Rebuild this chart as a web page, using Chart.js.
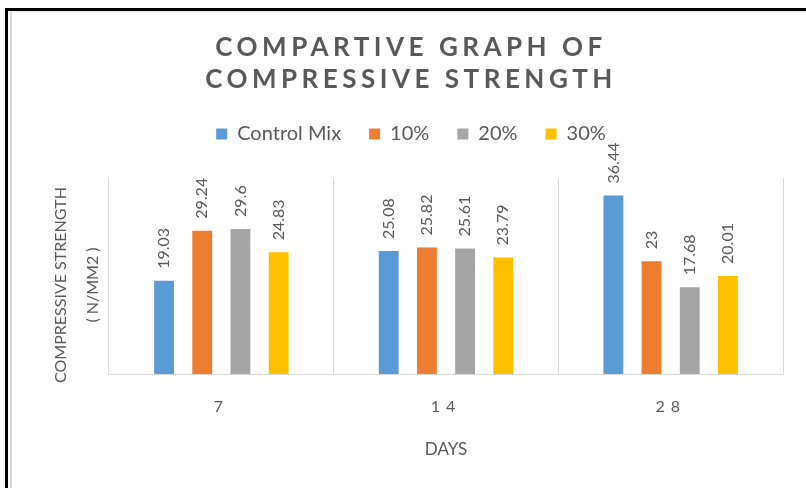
<!DOCTYPE html>
<html>
<head>
<meta charset="utf-8">
<script src="https://cdn.jsdelivr.net/npm/chart.js@4.4.1/dist/chart.umd.min.js"></script>
<style>
  html, body { margin: 0; padding: 0; background: #fff; }
  #wrap { position: relative; width: 806px; height: 488px; overflow: hidden; background: #fff; }
  #c { position: absolute; left: 0; top: 0; }
  .inner { position: absolute; left: 10px; top: 11px; width: 900px; height: 600px;
           border-left: 2px solid #d9d9d9; border-top: 1px solid #e6e6e6; pointer-events: none; }
  .frame { position: absolute; left: 5px; top: 8px; width: 900px; height: 600px;
           border-left: 3px solid #000; border-top: 3px solid #000; pointer-events: none; }
</style>
</head>
<body>
<div id="wrap">
  <canvas id="c" width="806" height="488"></canvas>
  <div class="inner"></div>
  <div class="frame"></div>
</div>
<script>
// Curing age (days) and compressive strength (N/mm2) for each mix
const days = ['7', '14', '28'];
const controlMix = [19.03, 25.08, 36.44];
const mix10 = [29.24, 25.82, 23];
const mix20 = [29.6, 25.61, 17.68];
const mix30 = [24.83, 23.79, 20.01];
const seriesNames = ['Control Mix', '10%', '20%', '30%'];
const seriesColors = ['#5B9BD5', '#ED7D31', '#A5A5A5', '#FFC000'];
const titleLines = ['COMPARTIVE GRAPH OF', 'COMPRESSIVE STRENGTH'];
const yTitleLines = ['COMPRESSIVE STRENGTH', '( N/MM2 )'];
const xTitle = 'DAYS';

const TEXT = '#595959';
const GRID = '#d9d9d9';

// Wrap a draw method so it runs with a tweaked canvas state
function wrapDraw(obj, method, tag, setup) {
  const key = '__wrapped_' + tag;
  if (!obj || obj[key]) return;
  const base = obj[method];
  obj[method] = function (...args) {
    const ctx = this.ctx;
    ctx.save();
    setup(ctx);
    const r = base.apply(this, args);
    ctx.restore();
    return r;
  };
  obj[key] = true;
}

const textTweaks = {
  id: 'textTweaks',
  beforeDraw(chart, args, opts) {
    wrapDraw(chart.titleBlock, 'draw', 'title', (ctx) => { ctx.letterSpacing = opts.titleSpacing; });
    wrapDraw(chart.scales.x, 'drawLabels', 'xlabels', (ctx) => { ctx.letterSpacing = opts.xTickSpacing; });
    wrapDraw(chart.scales.y, 'drawTitle', 'ytitle', (ctx) => { ctx.translate(0, opts.yTitleShift); });
  }
};

// Leave extra room between the legend row and the plot area
const legendGap = {
  id: 'legendGap',
  beforeLayout(chart, args, opts) {
    const lg = chart.legend;
    if (lg && !lg.__gap) {
      const fit = lg.fit;
      lg.fit = function () { fit.call(this); this.height += opts.extra; };
      lg.__gap = true;
    }
  }
};

// Vertical value labels above each bar
const barValueLabels = {
  id: 'barValueLabels',
  afterDatasetsDraw(chart, args, opts) {
    const ctx = chart.ctx;
    ctx.save();
    ctx.font = opts.font;
    ctx.fillStyle = opts.color;
    ctx.textAlign = 'left';
    ctx.textBaseline = 'middle';
    chart.data.datasets.forEach((ds, i) => {
      const meta = chart.getDatasetMeta(i);
      if (meta.hidden) return;
      meta.data.forEach((bar, j) => {
        ctx.save();
        ctx.translate(bar.x, bar.y - opts.gap);
        ctx.rotate(-Math.PI / 2);
        ctx.fillText(String(ds.data[j]), 0, 0);
        ctx.restore();
      });
    });
    ctx.restore();
  }
};

const seriesData = [controlMix, mix10, mix20, mix30];

new Chart(document.getElementById('c'), {
  type: 'bar',
  data: {
    labels: days,
    datasets: seriesData.map((d, i) => ({
      label: seriesNames[i],
      data: d,
      backgroundColor: seriesColors[i],
      borderWidth: 0,
      categoryPercentage: 0.68,
      barPercentage: 0.52
    }))
  },
  plugins: [textTweaks, legendGap, barValueLabels],
  options: {
    responsive: false,
    animation: false,
    events: [],
    layout: { padding: { left: 39, right: 23, top: 0, bottom: 0 } },
    plugins: {
      title: {
        display: true,
        text: titleLines,
        color: TEXT,
        font: { family: 'Lato', size: 26, weight: 'bold', lineHeight: 32 / 26 },
        padding: { top: 32, bottom: 0 }
      },
      legend: {
        display: true,
        position: 'top',
        align: 'center',
        labels: {
          boxWidth: 11,
          boxHeight: 11,
          padding: 28,
          color: TEXT,
          font: { family: 'Lato', size: 20 }
        }
      },
      tooltip: { enabled: false },
      textTweaks: { titleSpacing: '4.5px', xTickSpacing: '6px', yTitleShift: 9 },
      legendGap: { extra: 24 },
      barValueLabels: { font: '16px Lato', color: TEXT, gap: 12 }
    },
    scales: {
      x: {
        grid: { offset: true, color: GRID, drawTicks: false, lineWidth: 1 },
        border: { color: GRID, width: 1 },
        ticks: { color: TEXT, font: { family: 'Lato', size: 16 }, padding: 23 },
        title: {
          display: true,
          text: xTitle,
          color: TEXT,
          font: { family: 'Lato', size: 17 },
          padding: { top: 0, bottom: 28 }
        },
        afterFit: (s) => { s.height = 114; }
      },
      y: {
        min: 0,
        max: 40,
        grid: { display: false },
        border: { display: false },
        ticks: { display: false },
        title: {
          display: true,
          text: yTitleLines,
          color: TEXT,
          font: { family: 'Lato', size: 16, lineHeight: 2 },
          padding: { top: 6, bottom: 0 }
        },
        afterFit: (s) => { s.width = 70; }
      }
    }
  }
});
</script>
</body>
</html>
